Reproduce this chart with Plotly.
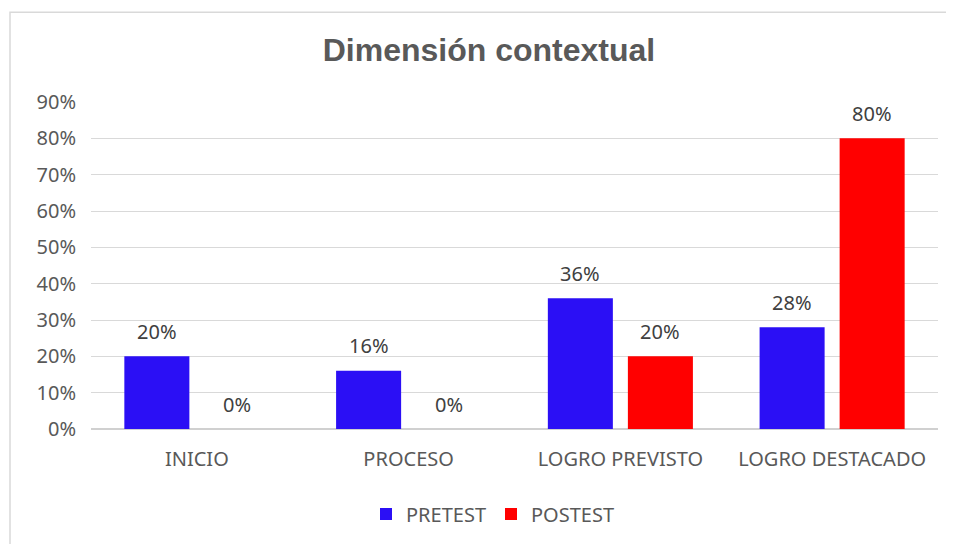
import plotly.graph_objects as go

categories = ["INICIO", "PROCESO", "LOGRO PREVISTO", "LOGRO DESTACADO"]
pretest = [0.20, 0.16, 0.36, 0.28]
postest = [0.00, 0.00, 0.20, 0.80]
series_names = ["PRETEST", "POSTEST"]
tick_vals = [0, 0.1, 0.2, 0.3, 0.4, 0.5, 0.6, 0.7, 0.8, 0.9]
tick_text = ["0%", "10%", "20%", "30%", "40%", "50%", "60%", "70%", "80%", "90%"]

# page has an 8px body margin; work in figure coordinates
W, H = 946, 536
L, R, T, B = 83, 930, 94, 422
FONT = "Noto Sans, Liberation Sans"
colors = ["#2B0FF5", "#FF0000"]

fig = go.Figure()
for name, vals, col in [(series_names[0], pretest, colors[0]), (series_names[1], postest, colors[1])]:
    fig.add_trace(go.Bar(x=categories, y=vals, name=name,
                         marker=dict(color=col, line=dict(width=0))))

# value labels
annotations = []
for vals, shift in [(pretest, -40), (postest, 40)]:
    for c, v in zip(categories, vals):
        annotations.append(dict(x=c, y=v, xref="x", yref="y", text=f"{round(v*100)}%",
                                showarrow=False, xshift=shift, yshift=25,
                                yanchor="middle", xanchor="center",
                                font=dict(family=FONT, size=20, color="#404040")))

fig.update_layout(
    width=W, height=H,
    margin=dict(l=L, r=W - R, t=T, b=H - B),
    paper_bgcolor="white", plot_bgcolor="white",
    barmode="group", bargap=0.244, bargroupgap=0.1875,
    title=dict(text="<b>Dimensión contextual</b>", x=(489 - 8) / W, xanchor="center",
               xref="container", y=1 - 42 / H, yanchor="middle",
               font=dict(family="Liberation Sans, Arial", size=32, color="#595959")),
    font=dict(family=FONT, color="#595959"),
    legend=dict(orientation="h", x=(493 - 8 - L) / (R - L), xanchor="center",
                y=-(506 - B) / (B - T), yanchor="middle",
                font=dict(size=20, color="#595959"), traceorder="normal"),
    showlegend=True,
    annotations=annotations,
)
fig.update_yaxes(range=[0, 0.9], tickvals=tick_vals, ticktext=tick_text,
                 showgrid=True, gridcolor="#D9D9D9", gridwidth=1,
                 zeroline=True, zerolinecolor="#D0D0D0", zerolinewidth=1.5,
                 tickfont=dict(size=20, color="#595959"), ticks="", ticklabelstandoff=14)
fig.update_xaxes(showline=False, tickfont=dict(size=20, color="#595959"), ticks="",
                 ticklabelstandoff=16)

# chart outer border (left and top edges visible)
x0 = (2 - L) / (R - L)
x1 = (2000 - L) / (R - L)
y_top = (B - 4) / (B - T)
y_bot = (B - 2000) / (B - T)
fig.add_shape(type="path", xref="paper", yref="paper",
              path=f"M {x0},{y_bot} L {x0},{y_top} L {x1},{y_top}",
              line=dict(color="#D9D9D9", width=1.5), layer="below")

fig.write_html("out.html")
